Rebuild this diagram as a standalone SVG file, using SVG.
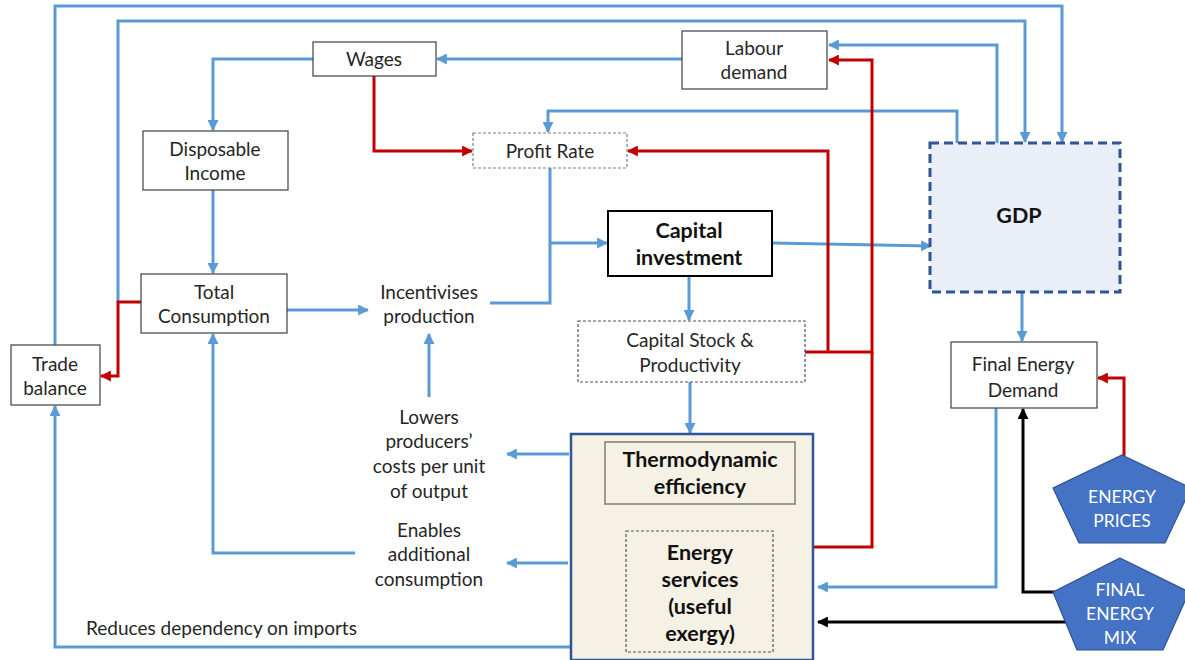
<svg xmlns="http://www.w3.org/2000/svg" width="1185" height="660" viewBox="0 0 1185 660">
  <style>
    .t { font-family: Lato, "Liberation Sans", sans-serif; font-size: 19px; fill: #262626; text-anchor: middle; }
    .b { font-weight: bold; font-size: 21.5px; fill: #111; }
    .w { fill: #ffffff; font-size: 17.5px; }
    .box { fill: #ffffff; stroke: #404040; stroke-width: 1.2; }
    .dash { fill: #ffffff; stroke: #555; stroke-width: 1.2; stroke-dasharray: 3 2; }
    .blue { fill: none; stroke: #5B9BD5; stroke-width: 3; }
    .red { fill: none; stroke: #C00000; stroke-width: 3; }
    .blk { fill: none; stroke: #000; stroke-width: 3; }
    .pent { fill: #4472C4; stroke: #2F528F; stroke-width: 1.2; }
  </style>
  <defs>
    <marker id="ab" viewBox="0 0 10 10" refX="9" refY="5" markerWidth="11" markerHeight="11" markerUnits="userSpaceOnUse" orient="auto">
      <path d="M0,0 L10,5 L0,10 z" fill="#5B9BD5"/>
    </marker>
    <marker id="ar" viewBox="0 0 10 10" refX="9" refY="5" markerWidth="11" markerHeight="11" markerUnits="userSpaceOnUse" orient="auto">
      <path d="M0,0 L10,5 L0,10 z" fill="#C00000"/>
    </marker>
    <marker id="ak" viewBox="0 0 10 10" refX="9" refY="5" markerWidth="11" markerHeight="11" markerUnits="userSpaceOnUse" orient="auto">
      <path d="M0,0 L10,5 L0,10 z" fill="#000"/>
    </marker>
  </defs>

  <rect width="1185" height="660" fill="#ffffff"/>

  <!-- connectors -->
  <g id="connectors">
    <path class="blue" d="M55,345 V6 H1062 V142" marker-end="url(#ab)"/>
    <path class="blue" d="M118,302 V21 H1025 V142" marker-end="url(#ab)"/>
    <path class="blue" d="M997,143 V45 H829" marker-end="url(#ab)"/>
    <path class="blue" d="M957,143 V111 H548 V132" marker-end="url(#ab)"/>
    <path class="blue" d="M682,59 H437" marker-end="url(#ab)"/>
    <path class="blue" d="M313,59 H213 V130" marker-end="url(#ab)"/>
    <path class="blue" d="M213,190 V273" marker-end="url(#ab)"/>
    <path class="red" d="M374,76 V151 H472" marker-end="url(#ar)"/>
    <path class="blue" d="M287,310 H368" marker-end="url(#ab)"/>
    <path class="blue" d="M490,303 H550 V168"/>
    <path class="blue" d="M550,243 H607" marker-end="url(#ab)"/>
    <path class="blue" d="M772,243 L931,246" marker-end="url(#ab)"/>
    <path class="blue" d="M1022,292 V341" marker-end="url(#ab)"/>
    <path class="blue" d="M689,276 V320" marker-end="url(#ab)"/>
    <path class="blue" d="M690,382 V433" marker-end="url(#ab)"/>
    <path class="blue" d="M700,504 V530" marker-end="url(#ab)"/>
    <path class="red" d="M805,352 H872 V60 H829" marker-end="url(#ar)"/>
    <path class="red" d="M828,352 V151 H628" marker-end="url(#ar)"/>
    <path class="red" d="M813,547 H872 V352"/>
    <path class="red" d="M1124,456 V378 H1098" marker-end="url(#ar)"/>
    <path class="blue" d="M996,408 V587 H818" marker-end="url(#ab)"/>
    <path class="blk" d="M1062,592 H1023 V409" marker-end="url(#ak)"/>
    <path class="blk" d="M1070,622 H818" marker-end="url(#ak)"/>
    <path class="blue" d="M569,454 H507" marker-end="url(#ab)"/>
    <path class="blue" d="M568,563 H507" marker-end="url(#ab)"/>
    <path class="blue" d="M429,397 V334" marker-end="url(#ab)"/>
    <path class="blue" d="M355,553 H213 V334" marker-end="url(#ab)"/>
    <path class="blue" d="M571,647 H55 V406" marker-end="url(#ab)"/>
    <path class="red" d="M141,302 H118 V376 H101" marker-end="url(#ar)"/>
  </g>

  <!-- nodes -->
  <g id="wages">
    <rect class="box" x="313" y="42" width="123" height="34"/>
    <text class="t" x="374" y="66">Wages</text>
  </g>
  <g id="labour-demand">
    <rect class="box" x="682" y="31" width="145" height="58"/>
    <text class="t" x="754" y="55">Labour</text>
    <text class="t" x="754" y="79">demand</text>
  </g>
  <g id="disposable-income">
    <rect class="box" x="143" y="131" width="145" height="59"/>
    <text class="t" x="215" y="156">Disposable</text>
    <text class="t" x="215" y="180">Income</text>
  </g>
  <g id="total-consumption">
    <rect class="box" x="141" y="274" width="146" height="59"/>
    <text class="t" x="214" y="299">Total</text>
    <text class="t" x="214" y="323">Consumption</text>
  </g>
  <g id="trade-balance">
    <rect class="box" x="11" y="345" width="89" height="60"/>
    <text class="t" x="55" y="371">Trade</text>
    <text class="t" x="55" y="395">balance</text>
  </g>
  <g id="profit-rate">
    <rect x="473" y="133" width="154" height="35" fill="#fff" stroke="#7f7f7f" stroke-width="1.2" stroke-dasharray="3 2"/>
    <text class="t" x="550" y="158">Profit Rate</text>
  </g>
  <g id="incentivises-production">
    <text class="t" x="429" y="299">Incentivises</text>
    <text class="t" x="429" y="323">production</text>
  </g>
  <g id="capital-investment">
    <rect x="608" y="211" width="164" height="65" fill="#fff" stroke="#000" stroke-width="2"/>
    <text class="t b" x="689" y="238">Capital</text>
    <text class="t b" x="689" y="265">investment</text>
  </g>
  <g id="capital-stock">
    <rect class="dash" x="578" y="321" width="227" height="61"/>
    <text class="t" x="690" y="347">Capital Stock &amp;</text>
    <text class="t" x="690" y="372">Productivity</text>
  </g>
  <g id="gdp">
    <rect x="930" y="143" width="190" height="149" fill="#E9EEF7" stroke="#2F5597" stroke-width="3" stroke-dasharray="9 5"/>
    <text class="t b" x="1019" y="223">GDP</text>
  </g>
  <g id="final-energy-demand">
    <rect class="box" x="951" y="342" width="146" height="66"/>
    <text class="t" x="1023" y="371">Final Energy</text>
    <text class="t" x="1023" y="397">Demand</text>
  </g>
  <g id="lowers-costs">
    <text class="t" x="429" y="424">Lowers</text>
    <text class="t" x="429" y="448">producers’</text>
    <text class="t" x="429" y="473">costs per unit</text>
    <text class="t" x="429" y="498">of output</text>
  </g>
  <g id="enables-consumption">
    <text class="t" x="429" y="537">Enables</text>
    <text class="t" x="429" y="561">additional</text>
    <text class="t" x="429" y="586">consumption</text>
  </g>
  <g id="reduces-imports">
    <text class="t" x="86" y="635" style="text-anchor:start">Reduces dependency on imports</text>
  </g>
  <g id="energy-system">
    <rect x="571" y="434" width="242" height="226" fill="#F5F1E4" stroke="#2F5597" stroke-width="2.5"/>
    <g id="thermodynamic-efficiency">
      <rect x="605" y="442" width="190" height="62" fill="#F5F1E4" stroke="#7F7F6F" stroke-width="1.5"/>
      <text class="t b" x="700" y="467">Thermodynamic</text>
      <text class="t b" x="700" y="494">efficiency</text>
    </g>
    <g id="energy-services">
      <rect x="626" y="531" width="147" height="121" fill="none" stroke="#555" stroke-width="1.2" stroke-dasharray="3 2"/>
      <text class="t b" x="700" y="560">Energy</text>
      <text class="t b" x="700" y="587">services</text>
      <text class="t b" x="700" y="614">(useful</text>
      <text class="t b" x="700" y="641">exergy)</text>
    </g>
  </g>
  <g id="energy-prices">
    <polygon class="pent" points="1122,455 1191,488 1165,543 1079,543 1053,488"/>
    <text class="t w" x="1122" y="503">ENERGY</text>
    <text class="t w" x="1122" y="527">PRICES</text>
  </g>
  <g id="final-energy-mix">
    <polygon class="pent" points="1120,558 1189,592 1163,650 1077,650 1053,592"/>
    <text class="t w" x="1120" y="596">FINAL</text>
    <text class="t w" x="1120" y="620">ENERGY</text>
    <text class="t w" x="1120" y="644">MIX</text>
  </g>
</svg>
